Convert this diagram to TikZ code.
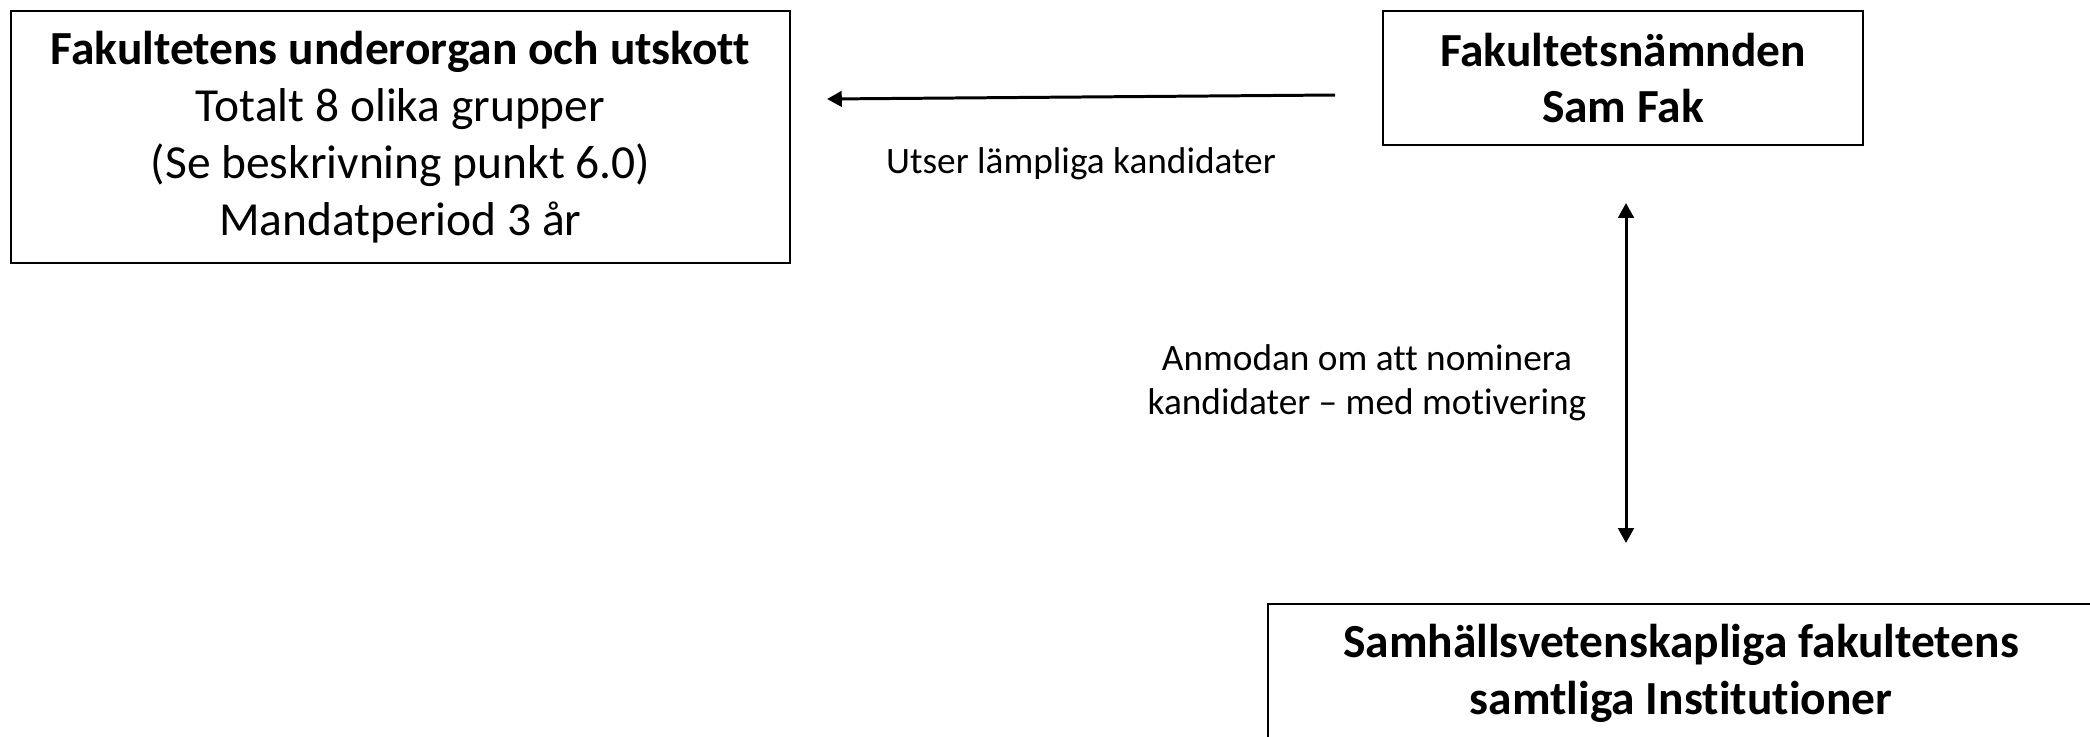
\documentclass[tikz,border=0pt]{standalone}
\usepackage{fontspec}
\setmainfont{Carlito}[Ligatures={NoCommon}]
\usetikzlibrary{arrows.meta}
\usetikzlibrary{positioning}

\begin{document}
\begin{tikzpicture}[
x=0.01cm, y=-0.01cm,
MyBox/.style={draw=black,line width=0.6pt,inner sep=0pt,align=center,
  font=\fontsize{13.5}{16.2}\selectfont},
MyLabel/.style={align=center,inner sep=0pt,font=\fontsize{10.6}{12.4}\selectfont},
MyArrow/.style={-{Triangle[length=4.2pt,width=4.4pt]},line width=0.85pt}
]
%\draw[gray,dotted,step=100] (0,0) grid (2090,736);
\useasboundingbox (0,0) rectangle (2090,736);
\clip (0,0) rectangle (2090,736);

\node[MyBox, minimum width=7.79cm, minimum height=2.52cm] (organ) at (400.5,137)
  {\textbf{Fakultetens underorgan och utskott}\\Totalt 8 olika grupper\\(Se beskrivning punkt 6.0)\\Mandatperiod 3 år};

\node[MyBox, minimum width=4.80cm, minimum height=1.34cm] (namnd) at (1623,78)
  {\textbf{Fakultetsnämnden}\\\textbf{Sam Fak}};

\node[MyBox, minimum width=8.26cm, minimum height=1.38cm] (inst) at (1681,673)
  {\textbf{Samhällsvetenskapliga fakultetens}\\\textbf{samtliga Institutioner}};

\coordinate (hA) at (1335,95);
\coordinate (hB) at (827,99);
\coordinate (vA) at (1626,203);
\coordinate (vB) at (1626,543);

\draw[MyArrow] (hA) -- (hB);
\draw[MyArrow,{Triangle[length=4.2pt,width=4.4pt]}-{Triangle[length=4.2pt,width=4.4pt]}] (vA) -- (vB);

\node[MyLabel] (utser) at (1081,164) {Utser lämpliga kandidater};
\node[MyLabel] (anmodan) at (1367,383) {Anmodan om att nominera\\kandidater – med motivering};

\end{tikzpicture}
\end{document}
